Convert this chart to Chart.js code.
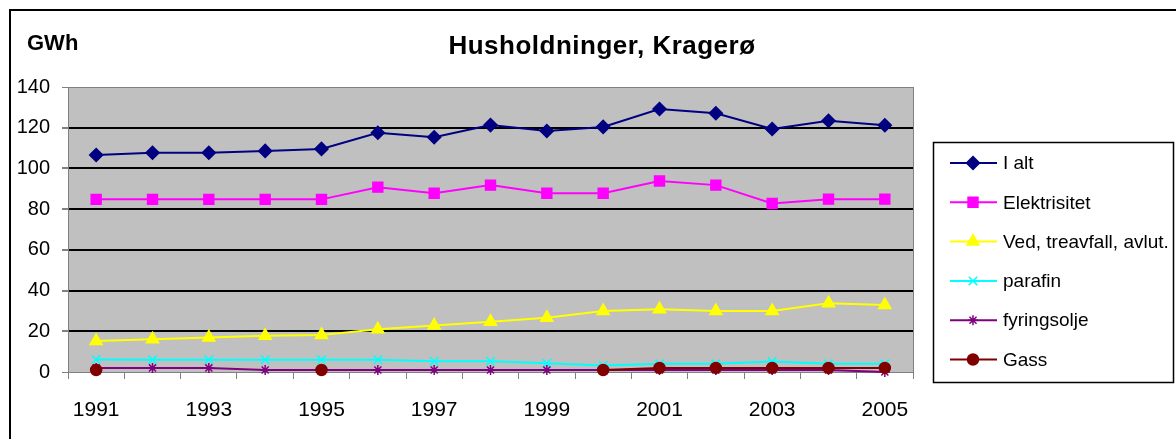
<!DOCTYPE html>
<html lang="no">
<head>
  <meta charset="UTF-8">
  <title>Husholdninger, Kragerø</title>
  <style>
    body {
      margin: 0;
      background: #fff;
    }
    #chart {
      display: block;
    }
  </style>
  <script src="https://cdn.jsdelivr.net/npm/chart.js"></script>
</head>
<body>
  <canvas id="chart" width="1176" height="439"></canvas>
  <script>
    // Data
    const years = ['1991', '1992', '1993', '1994', '1995', '1996', '1997', '1998',
                   '1999', '2000', '2001', '2002', '2003', '2004', '2005'];
    const ialt = [106.6, 107.7, 107.7, 108.6, 109.6, 117.5, 115.3, 121.3, 118.4, 120.4, 129.2, 127.1, 119.4, 123.4, 121.2];
    const elektrisitet = [84.8, 84.8, 84.8, 84.8, 84.8, 90.8, 87.8, 91.8, 87.8, 87.8, 93.8, 91.8, 82.8, 84.9, 84.9];
    const ved = [15.2, 16.1, 17.0, 17.8, 18.2, 21.0, 22.8, 24.7, 26.7, 30.0, 30.8, 30.0, 30.0, 33.8, 32.9];
    const parafin = [6.1, 6.0, 6.0, 6.0, 6.0, 6.0, 5.3, 5.3, 4.3, 3.2, 4.0, 4.0, 5.1, 4.0, 4.0];
    const fyringsolje = [2, 2, 2, 1, 1, 1, 1, 1, 1, 1, 1, 1, 1, 1, 0];
    const gass = [1, null, null, null, 1, null, null, null, null, 1, 2, 2, 2, 2, 2];
    const yTicks = [0, 20, 40, 60, 80, 100, 120, 140];

    Chart.defaults.font.family = "'Liberation Sans', Arial, sans-serif";
    Chart.defaults.color = '#000';

    // gray plot background, right border, outer frame, title, unit label, legend
    const decor = {
      id: 'decor',
      beforeDraw(chart) {
        const { ctx, chartArea: a } = chart;
        ctx.save();
        ctx.fillStyle = '#c0c0c0';
        ctx.fillRect(a.left, a.top, a.right - a.left, a.bottom - a.top);
        ctx.restore();
      },
      afterDraw(chart) {
        const { ctx, chartArea: a } = chart;
        ctx.save();
        ctx.strokeStyle = '#808080';
        ctx.lineWidth = 1;
        ctx.beginPath();
        ctx.moveTo(a.right + 0.5, a.top);
        ctx.lineTo(a.right + 0.5, a.bottom);
        ctx.stroke();

        // outer frame
        ctx.strokeStyle = '#000';
        ctx.lineWidth = 2;
        ctx.beginPath();
        ctx.moveTo(10, 440);
        ctx.lineTo(10, 10);
        ctx.lineTo(1176, 10);
        ctx.stroke();

        // texts
        ctx.fillStyle = '#000';
        ctx.textBaseline = 'middle';
        ctx.font = "bold 26px 'Liberation Sans', Arial, sans-serif";
        ctx.textAlign = 'center';
        ctx.letterSpacing = '0.5px';
        ctx.fillText('Husholdninger, Kragerø', 602, 47);
        ctx.letterSpacing = '0px';
        ctx.textAlign = 'left';
        ctx.font = "bold 22px 'Liberation Sans', Arial, sans-serif";
        ctx.fillText('GWh', 27, 44);

        // legend
        ctx.lineWidth = 1.5;
        ctx.strokeStyle = '#000';
        ctx.strokeRect(933.5, 142.5, 240, 240);
        ctx.font = "19px 'Liberation Sans', Arial, sans-serif";
        chart.data.datasets.forEach((ds, i) => {
          const y = 163 + i * 39.3;
          ctx.strokeStyle = ds.borderColor;
          ctx.lineWidth = 2;
          ctx.beginPath();
          ctx.moveTo(950, y);
          ctx.lineTo(997, y);
          ctx.stroke();
          ctx.fillStyle = ds.pointBackgroundColor;
          ctx.strokeStyle = ds.pointBorderColor;
          ctx.lineWidth = ds.pointBorderWidth;
          Chart.helpers.drawPoint(ctx, {
            pointStyle: ds.pointStyle,
            radius: ds.pointRadius,
            borderWidth: ds.pointBorderWidth,
            rotation: 0
          }, 973, y);
          ctx.fillStyle = '#000';
          ctx.fillText(ds.label, 1003, y + 1);
        });
        ctx.restore();
      }
    };

    function series(label, data, color, style, radius, order) {
      return {
        label: label,
        data: data,
        borderColor: color,
        backgroundColor: color,
        pointBackgroundColor: color,
        pointBorderColor: color,
        pointBorderWidth: 1.5,
        pointStyle: style,
        pointRadius: radius,
        borderWidth: 2,
        tension: 0,
        clip: false,
        order: order
      };
    }

    new Chart(document.getElementById('chart'), {
      type: 'line',
      data: {
        labels: years,
        datasets: [
          series('I alt', ialt, '#000080', 'rectRot', 6.5, 6),
          series('Elektrisitet', elektrisitet, '#ff00ff', 'rect', 7, 5),
          series('Ved, treavfall, avlut.', ved, '#ffff00', 'triangle', 7, 4),
          series('parafin', parafin, '#00ffff', 'crossRot', 6, 3),
          series('fyringsolje', fyringsolje, '#800080', 'star', 5, 2),
          series('Gass', gass, '#800000', 'circle', 5.5, 1)
        ]
      },
      options: {
        responsive: false,
        animation: false,
        devicePixelRatio: 1,
        layout: { padding: { left: 10, right: 263, top: 87, bottom: 0 } },
        plugins: {
          legend: { display: false },
          title: { display: false },
          tooltip: { enabled: false }
        },
        scales: {
          x: {
            offset: true,
            afterFit(scale) { scale.height = 67; },
            grid: {
              offset: true,
              drawOnChartArea: false,
              tickLength: 7,
              color: '#808080'
            },
            border: { color: '#808080', width: 1 },
            ticks: {
              autoSkip: false,
              maxRotation: 0,
              padding: 19,
              font: { size: 21 },
              callback: (v, i) => (i % 2 === 0 ? years[i] : '')
            }
          },
          y: {
            min: 0,
            max: 140,
            afterFit(scale) { scale.width = 58; },
            afterBuildTicks(scale) { scale.ticks = yTicks.map(v => ({ value: v })); },
            grid: {
              tickLength: 6,
              tickColor: '#808080',
              color: c => (c.tick.value === 0 || c.tick.value === 140 ? '#808080' : '#000'),
              lineWidth: c => (c.tick.value === 0 || c.tick.value === 140 ? 1 : 2)
            },
            border: { color: '#808080', width: 1 },
            ticks: {
              padding: 12,
              font: { size: 20 }
            }
          }
        }
      },
      plugins: [decor]
    });
  </script>
</body>
</html>
